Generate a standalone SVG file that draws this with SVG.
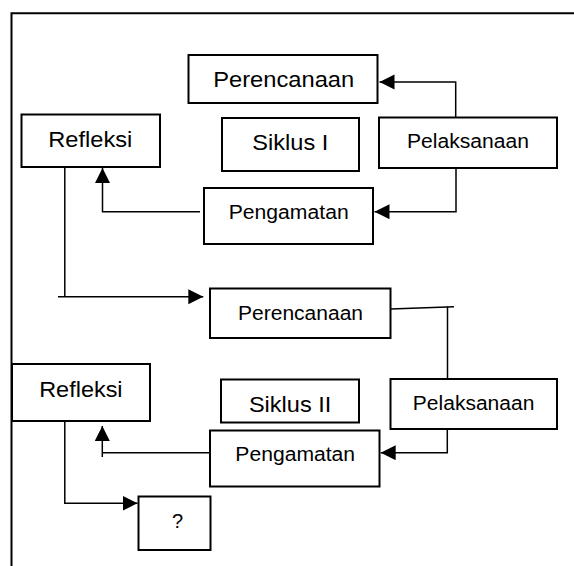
<svg xmlns="http://www.w3.org/2000/svg" width="574" height="566" viewBox="0 0 574 566">
<style>
.box{fill:#fff;stroke:#000;stroke-width:2}
.con{fill:none;stroke:#000;stroke-width:1.5}
.frame{fill:none;stroke:#000;stroke-width:2}
text{font-family:"Liberation Sans",Arial,sans-serif;fill:#000;text-anchor:middle}
.lg{font-size:22px}
.sm{font-size:20px}
</style>
<defs>
<marker id="ah" markerUnits="userSpaceOnUse" markerWidth="16" markerHeight="16" refX="15" refY="7.5" orient="auto">
<path d="M0,0 L15,7.5 L0,15 z" fill="#000"/>
</marker>
</defs>
<rect width="574" height="566" fill="#fff"/>
<g id="frame">
<path class="frame" d="M11.5,566 V13.3 H574"/>
</g>
<g id="connectors">
<path class="con" d="M455.7,117 V82 H379.5" marker-end="url(#ah)"/>
<path class="con" d="M456,168 V211.7 H374.5" marker-end="url(#ah)"/>
<path class="con" d="M200,211.7 H102.5 V168" marker-end="url(#ah)"/>
<path class="con" d="M64.8,167 V296.7"/>
<path class="con" d="M58,296.7 H203.3" marker-end="url(#ah)"/>
<path class="con" d="M390.6,309 L454,306.7"/>
<path class="con" d="M447.5,306.7 V379"/>
<path class="con" d="M447.3,429 V452.7 H380.7" marker-end="url(#ah)"/>
<path class="con" d="M209.7,452.7 H102.3"/>
<path class="con" d="M102.3,457 V426" marker-end="url(#ah)"/>
<path class="con" d="M64.8,421 V503.3 H137.5" marker-end="url(#ah)"/>
</g>
<g id="perencanaan1">
<rect class="box" x="188.5" y="55" width="189" height="48"/>
<text class="lg" x="283.7" y="86.7" textLength="141" lengthAdjust="spacingAndGlyphs">Perencanaan</text>
</g>
<g id="refleksi1">
<rect class="box" x="21.5" y="114.5" width="138.5" height="52.5"/>
<text class="lg" x="90.3" y="146.7" textLength="84" lengthAdjust="spacingAndGlyphs">Refleksi</text>
</g>
<g id="siklus1">
<rect class="box" x="222" y="118" width="137" height="53"/>
<text class="lg" x="290.3" y="149.7" textLength="76" lengthAdjust="spacingAndGlyphs">Siklus I</text>
</g>
<g id="pelaksanaan1">
<rect class="box" x="379" y="117.5" width="178" height="50.5"/>
<text class="sm" x="468" y="147.7" textLength="122" lengthAdjust="spacingAndGlyphs">Pelaksanaan</text>
</g>
<g id="pengamatan1">
<rect class="box" x="204" y="188" width="169" height="56"/>
<text class="sm" x="288.7" y="219" textLength="120" lengthAdjust="spacingAndGlyphs">Pengamatan</text>
</g>
<g id="perencanaan2">
<rect class="box" x="210" y="288.5" width="180.5" height="49.5"/>
<text class="sm" x="300.5" y="320" textLength="125" lengthAdjust="spacingAndGlyphs">Perencanaan</text>
</g>
<g id="refleksi2">
<rect class="box" x="12" y="364" width="138" height="57"/>
<text class="lg" x="80.9" y="396.7" textLength="83.4" lengthAdjust="spacingAndGlyphs">Refleksi</text>
</g>
<g id="siklus2">
<rect class="box" x="221" y="379.5" width="138" height="43"/>
<text class="lg" x="290.1" y="412.3" textLength="82.4" lengthAdjust="spacingAndGlyphs">Siklus II</text>
</g>
<g id="pelaksanaan2">
<rect class="box" x="390.5" y="379" width="166.5" height="50"/>
<text class="sm" x="473.6" y="410" textLength="121.5" lengthAdjust="spacingAndGlyphs">Pelaksanaan</text>
</g>
<g id="pengamatan2">
<rect class="box" x="210" y="430.5" width="169.5" height="56"/>
<text class="sm" x="295.2" y="460.7" textLength="119.7" lengthAdjust="spacingAndGlyphs">Pengamatan</text>
</g>
<g id="question">
<rect class="box" x="138.5" y="496.5" width="72" height="53.5"/>
<text class="sm" x="177.5" y="528">?</text>
</g>
</svg>
